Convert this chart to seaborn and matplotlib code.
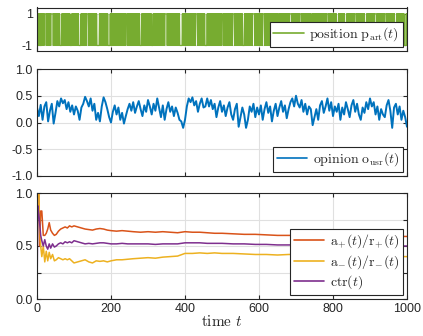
import numpy as np
import pandas as pd
import matplotlib
matplotlib.use("Agg")
import matplotlib.pyplot as plt
import seaborn as sns

T_END = 1000

# Article position: switches sign every step except during these hold periods
hold_start = [20, 38, 62, 90, 113, 135, 162, 192, 240, 278, 310, 346, 386, 429,
              454, 500, 529, 556, 583, 610, 650, 683, 710, 740, 783, 810, 832,
              859, 886, 913, 940, 967, 993]
hold_len = [4, 5, 4, 3, 5, 4, 6, 5, 3, 4, 3, 5, 6, 4,
            5, 3, 4, 4, 5, 4, 3, 5, 4, 3, 4, 4, 4,
            4, 4, 5, 4, 4, 4]

# User opinion, sampled every 5 steps
opinion_step = 5
opinion = [
    0.28, 0.12, 0.33, 0.05, 0.30, 0.38, 0.02, 0.22, 0.35, -0.02, 0.18, 0.40, 0.30, 0.45, 0.36, 0.42, 0.25, 0.38, 0.20, 0.32,
    0.15, 0.30, 0.22, 0.05, 0.28, 0.35, 0.48, 0.40, 0.30, 0.45, 0.22, 0.35, 0.05, 0.18, 0.02, 0.30, 0.47, 0.38, 0.25, 0.10,
    0.00, 0.20, 0.32, 0.15, 0.28, 0.05, 0.18, -0.02, 0.12, 0.25, 0.35, 0.22, 0.38, 0.18, 0.30, 0.40, 0.25, 0.12, 0.32, 0.20,
    0.42, 0.30, 0.15, 0.35, 0.22, 0.45, 0.28, 0.10, 0.32, 0.05, 0.25, 0.38, 0.20, 0.30, 0.12, 0.28, 0.18, 0.05, 0.02, -0.10,
    0.05, 0.30, 0.45, 0.38, 0.47, 0.32, 0.40, 0.20, 0.35, 0.45, 0.28, 0.30, 0.45, 0.30, 0.42, 0.25, 0.35, 0.10, 0.28, 0.40,
    0.20, 0.32, 0.12, 0.28, 0.38, 0.15, 0.05, 0.25, 0.35, -0.08, 0.10, 0.28, 0.15, -0.10, 0.05, 0.30, 0.20, 0.35, 0.10, 0.28,
    0.15, 0.32, 0.05, 0.25, 0.38, 0.18, 0.30, 0.02, 0.22, 0.35, 0.12, 0.28, 0.40, 0.20, 0.32, 0.08, 0.25, 0.38, 0.45, 0.30,
    0.50, 0.35, 0.28, 0.42, 0.20, 0.35, 0.15, 0.30, 0.25, -0.05, 0.10, 0.25, 0.05, 0.32, 0.40, 0.18, 0.30, 0.45, 0.22, 0.38,
    0.12, 0.30, 0.20, 0.35, 0.05, 0.28, 0.15, 0.38, 0.25, 0.10, 0.32, 0.42, 0.20, 0.35, 0.15, 0.05, 0.28, 0.18, 0.38, 0.25,
    0.45, 0.30, 0.38, 0.15, 0.30, 0.05, 0.25, 0.15, 0.10, 0.32, 0.42, 0.22, -0.10, 0.28, 0.35, 0.15, 0.30, 0.05, 0.22, 0.10,
    -0.08,
]

# Running acceptance ratios and click-through rate
ratio_t = [0, 2, 5, 7, 10, 13, 17, 21, 25, 29, 33, 37, 42, 47, 52, 58, 64, 70, 76, 82,
           88, 94, 100, 110, 120, 130, 140, 150, 160, 170, 180, 190, 200, 215, 230, 245, 260, 280, 300, 320,
           340, 360, 380, 400, 420, 440, 460, 480, 500, 530, 560, 590, 620, 650, 680, 710, 740, 770, 800, 830,
           860, 890, 920, 950, 980, 1000]
ratio_plus = [1.0, 1.0, 1.0, 0.5, 0.83, 0.83, 0.6, 0.6, 0.62, 0.66, 0.72, 0.65, 0.62, 0.6, 0.61, 0.64, 0.66, 0.67, 0.68, 0.67,
              0.69, 0.68, 0.69, 0.68, 0.67, 0.66, 0.655, 0.65, 0.66, 0.665, 0.66, 0.65, 0.645, 0.64, 0.645, 0.64, 0.635, 0.63, 0.635, 0.63,
              0.635, 0.63, 0.625, 0.635, 0.63, 0.63, 0.625, 0.62, 0.62, 0.615, 0.61, 0.61, 0.605, 0.6, 0.6, 0.6, 0.6, 0.6, 0.595, 0.6,
              0.595, 0.595, 0.6, 0.595, 0.59, 0.59]
ratio_minus = [1.0, 1.0, 1.0, 0.7, 0.5, 0.4, 0.5, 0.35, 0.45, 0.36, 0.44, 0.38, 0.42, 0.36, 0.37, 0.39, 0.38, 0.37, 0.38, 0.37,
               0.38, 0.36, 0.34, 0.35, 0.36, 0.37, 0.35, 0.34, 0.36, 0.355, 0.36, 0.35, 0.36, 0.37, 0.37, 0.375, 0.38, 0.385, 0.39, 0.385,
               0.395, 0.4, 0.405, 0.43, 0.43, 0.435, 0.43, 0.435, 0.43, 0.43, 0.425, 0.42, 0.42, 0.415, 0.42, 0.42, 0.425, 0.42, 0.42, 0.415,
               0.41, 0.41, 0.405, 0.405, 0.4, 0.4]
ctr = [0.0, 0.88, 0.8, 0.72, 0.6, 0.55, 0.5, 0.56, 0.5, 0.47, 0.52, 0.48, 0.52, 0.49, 0.5, 0.52, 0.53, 0.52, 0.54, 0.53,
       0.54, 0.53, 0.55, 0.54, 0.53, 0.52, 0.525, 0.52, 0.525, 0.53, 0.53, 0.525, 0.52, 0.52, 0.525, 0.52, 0.52, 0.52, 0.52, 0.515,
       0.52, 0.52, 0.52, 0.53, 0.53, 0.53, 0.525, 0.525, 0.525, 0.52, 0.52, 0.515, 0.515, 0.51, 0.51, 0.51, 0.51, 0.51, 0.505, 0.505,
       0.505, 0.505, 0.5, 0.5, 0.5, 0.5]

x_ticks = [0, 200, 400, 600, 800, 1000]

# MATLAB-style default line colours
C_GREEN = (0.466, 0.674, 0.188)
C_BLUE = (0.0, 0.447, 0.741)
C_ORANGE = (0.85, 0.325, 0.098)
C_YELLOW = (0.929, 0.694, 0.125)
C_PURPLE = (0.494, 0.184, 0.556)
AX_COLOR = (0.15, 0.15, 0.15)

# ---- build the position sequence
held = set()
for s, n in zip(hold_start, hold_len):
    held.update(range(s, s + n))
pos = []
state = 1
for t in range(T_END + 1):
    pos.append(state)
    if t not in held:
        state = -state
df_pos = pd.DataFrame({"t": np.arange(T_END + 1), "p": pos})
df_op = pd.DataFrame({"t": np.arange(len(opinion)) * opinion_step, "o": opinion})
df_ratio = pd.DataFrame({"t": ratio_t, "plus": ratio_plus, "minus": ratio_minus, "ctr": ctr})

sns.set_theme(style="white")
plt.rcParams["font.family"] = ["Liberation Sans", "DejaVu Sans"]
plt.rcParams["mathtext.fontset"] = "cm"

fig = plt.figure(figsize=(4.23, 3.36), dpi=100)
left, width = 37 / 423, 370 / 423
ax1 = fig.add_axes([left, 285 / 336, width, 43.5 / 336])
ax2 = fig.add_axes([left, 160 / 336, width, 107 / 336])
ax3 = fig.add_axes([left, 37 / 336, width, 106 / 336])

sns.lineplot(data=df_pos, x="t", y="p", ax=ax1, color=C_GREEN, lw=0.9,
             estimator=None, label=r"$\mathrm{position}\ \mathrm{p}_{\mathrm{art}}(t)$")
sns.lineplot(data=df_op, x="t", y="o", ax=ax2, color=C_BLUE, lw=1.4,
             estimator=None, label=r"$\mathrm{opinion}\ \mathrm{o}_{\mathrm{usr}}(t)$")
sns.lineplot(data=df_ratio, x="t", y="plus", ax=ax3, color=C_ORANGE, lw=1.1,
             estimator=None, label=r"$\mathrm{a}_{+}(t)/\mathrm{r}_{+}(t)$")
sns.lineplot(data=df_ratio, x="t", y="minus", ax=ax3, color=C_YELLOW, lw=1.1,
             estimator=None, label=r"$\mathrm{a}_{-}(t)/\mathrm{r}_{-}(t)$")
sns.lineplot(data=df_ratio, x="t", y="ctr", ax=ax3, color=C_PURPLE, lw=1.1,
             estimator=None, label=r"$\mathrm{ctr}(t)$")

for ax in (ax1, ax2, ax3):
    ax.set_xlim(0, T_END)
    ax.set_xticks(x_ticks)
    ax.set_xlabel("")
    ax.set_ylabel("")
    ax.grid(True, color=(0.88, 0.88, 0.88), lw=0.8)
    ax.set_axisbelow(True)
    ax.tick_params(direction="in", length=3, width=0.8, color=AX_COLOR,
                   labelcolor=AX_COLOR, labelsize=9, top=True, right=True,
                   bottom=True, left=True, pad=3)
    for sp in ax.spines.values():
        sp.set_color(AX_COLOR)
        sp.set_linewidth(0.8)

ax1.set_ylim(-1.35, 1.4)
ax1.set_yticks([-1, 1])
ax1.set_yticklabels(["-1", "1"])
ax1.tick_params(labelbottom=False)

ax2.set_ylim(-1, 1)
ax2.set_yticks([-1, -0.5, 0, 0.5, 1])
ax2.set_yticklabels(["-1.0", "-0.5", "0.0", "0.5", "1.0"])
ax2.tick_params(labelbottom=False)

ax3.set_ylim(0, 1)
ax3.set_yticks([0, 0.25, 0.5, 0.75, 1])
ax3.set_yticklabels(["0.0", "", "0.5", "", "1.0"])
ax3.set_xticklabels([str(v) for v in x_ticks])
ax3.set_xlabel(r"$\mathrm{time}\ t$", fontsize=11, color=AX_COLOR, labelpad=-1)

for ax in (ax1, ax2, ax3):
    leg = ax.legend(loc="lower right", frameon=True, fancybox=False,
                    fontsize=10, handlelength=2.2, borderpad=0.25,
                    labelspacing=0.2, handletextpad=0.4, borderaxespad=0.3)
    leg.get_frame().set_edgecolor(AX_COLOR)
    leg.get_frame().set_linewidth(0.8)
    leg.get_frame().set_alpha(1.0)
    for h in leg.get_lines():
        h.set_linewidth(1.2)

fig.savefig("out.png", dpi=100)
